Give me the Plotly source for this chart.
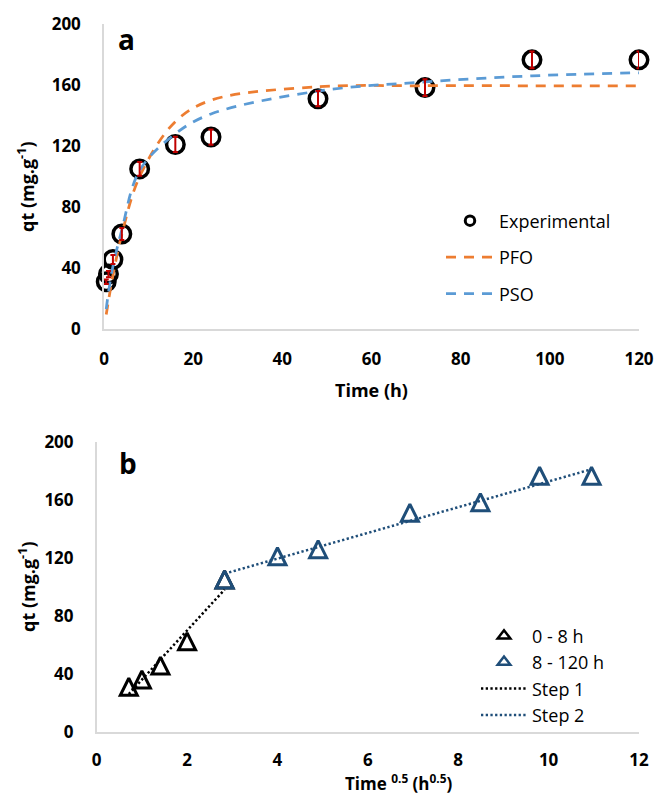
import plotly.graph_objects as go

# ---- kinetic data ----
time_h = [0.5, 1, 2, 4, 8, 16, 24, 48, 72, 96, 120]
qt_exp = [31, 36, 45.6, 62.3, 105, 121, 125.9, 151, 158.3, 176.5, 176.5]
qt_err = [1.5, 2, 3, 4, 4.5, 5, 5, 5, 5.5, 5.5, 5.5]
qt_pfo = [9.5, 18.5, 35, 62, 100, 136, 150, 158.8, 159.5, 159.5, 159.5]
qt_pso = [13, 24, 41, 65, 104, 128, 141, 156, 162, 166, 168]

# ---- intraparticle diffusion ----
sqrt_time = [0.71, 1.00, 1.41, 2.00, 2.83, 4.00, 4.90, 6.93, 8.49, 9.80, 10.95]
n_step1 = 5  # points from 0 to 8 h
step1_x = [0.71, 2.83]
step1_y = [26, 98]
step2_x = [2.83, 10.95]
step2_y = [109, 181]

W, H = 656, 794
FONT = "Open Sans"


def px(x):
    return x / W


def py(y):
    return 1 - y / H


ORANGE = "#ED7D31"
LBLUE = "#5B9BD5"
DBLUE = "#1F4E79"
RED = "#C00000"

fig = go.Figure()

# ---------- panel a ----------
fig.add_trace(go.Scatter(
    x=time_h, y=qt_exp, mode="markers", showlegend=False,
    marker=dict(symbol="circle-open", size=17.5, color="black",
                line=dict(width=3.5, color="black")),
    cliponaxis=False, xaxis="x", yaxis="y"))
# legend entry with a smaller key symbol
fig.add_trace(go.Scatter(
    x=[None], y=[None], mode="markers", name="Experimental",
    marker=dict(symbol="circle-open", size=9.5, color="black",
                line=dict(width=3, color="black")),
    legend="legend", legendgroup="e", xaxis="x", yaxis="y"))
fig.add_trace(go.Scatter(
    x=time_h, y=qt_pfo, mode="lines", name="PFO", line_shape="spline",
    line=dict(color=ORANGE, width=2.75, dash="10px,8px"),
    legend="legend", legendgroup="p1", xaxis="x", yaxis="y"))
fig.add_trace(go.Scatter(
    x=time_h, y=qt_pso, mode="lines", name="PSO", line_shape="spline",
    line=dict(color=LBLUE, width=2.75, dash="10px,8px"),
    legend="legend", legendgroup="p2", xaxis="x", yaxis="y"))
fig.add_trace(go.Scatter(
    x=time_h, y=qt_exp, mode="markers", showlegend=False, hoverinfo="skip",
    marker=dict(size=1, color="rgba(0,0,0,0)"),
    error_y=dict(type="data", array=qt_err, color=RED, thickness=2, width=2.5),
    cliponaxis=False, xaxis="x", yaxis="y"))

# ---------- panel b ----------
tri = dict(symbol="arrow-down-open", angle=180, size=17, standoff=8.5)
fig.add_trace(go.Scatter(
    x=sqrt_time[:n_step1], y=qt_exp[:n_step1], mode="markers", showlegend=False,
    marker=dict(**tri, color="black", line=dict(width=3, color="black")),
    cliponaxis=False, xaxis="x2", yaxis="y2"))
fig.add_trace(go.Scatter(
    x=sqrt_time[n_step1 - 1:], y=qt_exp[n_step1 - 1:], mode="markers", showlegend=False,
    marker=dict(**tri, color=DBLUE, line=dict(width=3, color=DBLUE)),
    cliponaxis=False, xaxis="x2", yaxis="y2"))
fig.add_trace(go.Scatter(
    x=step1_x, y=step1_y, mode="lines", name="Step 1",
    line=dict(color="black", width=2.5, dash="2.3px,2.4px"),
    showlegend=False, xaxis="x2", yaxis="y2"))
fig.add_trace(go.Scatter(
    x=step2_x, y=step2_y, mode="lines", name="Step 2",
    line=dict(color=DBLUE, width=2.5, dash="2.3px,2.4px"),
    showlegend=False, xaxis="x2", yaxis="y2"))

# legend keys for panel b
for name, color, mode in [
    ("0 - 8 h", "black", "markers"),
    ("8 - 120 h", DBLUE, "markers"),
    ("Step 1", "black", "lines"),
    ("Step 2", DBLUE, "lines"),
]:
    if mode == "markers":
        fig.add_trace(go.Scatter(
            x=[None], y=[None], mode="markers", name=name,
            marker=dict(symbol="triangle-up-open", size=11, color=color,
                        line=dict(width=2.5, color=color)),
            legend="legend2", xaxis="x2", yaxis="y2"))
    else:
        fig.add_trace(go.Scatter(
            x=[None], y=[None], mode="lines", name=name,
            line=dict(color=color, width=2.5, dash="2.3px,2.4px"),
            legend="legend2", xaxis="x2", yaxis="y2"))

tickfont = dict(family=FONT, size=17, color="black", weight="bold")
axis_common = dict(showline=True, linecolor="#D9D9D9", linewidth=1.5,
                   showgrid=False, zeroline=False, ticks="",
                   tickfont=tickfont, fixedrange=True)

fig.update_layout(
    width=W, height=H,
    margin=dict(l=0, r=0, t=0, b=0, autoexpand=False),
    paper_bgcolor="white", plot_bgcolor="white",
    font=dict(family=FONT, color="black"),
    xaxis=dict(domain=[px(104), px(639)], range=[0, 120], dtick=20, anchor="y",
               ticklabelstandoff=14, **axis_common),
    yaxis=dict(domain=[py(329), py(24)], range=[0, 200], dtick=40, anchor="x",
               ticklabelstandoff=18, **axis_common),
    xaxis2=dict(domain=[px(96.7), px(639)], range=[0, 12], dtick=2, anchor="y2",
                ticklabelstandoff=12, **axis_common),
    yaxis2=dict(domain=[py(731.7), py(441.7)], range=[0, 200], dtick=40, anchor="x2",
                ticklabelstandoff=18, **axis_common),
    legend=dict(x=px(441), y=py(202.5), xanchor="left", yanchor="top",
                bgcolor="rgba(0,0,0,0)", borderwidth=0,
                font=dict(family=FONT, size=18, color="black"),
                itemwidth=48, itemsizing="trace",
                traceorder="grouped", tracegroupgap=10),
    legend2=dict(x=px(476), y=py(617.5), xanchor="left", yanchor="top",
                 bgcolor="rgba(0,0,0,0)", borderwidth=0,
                 font=dict(family=FONT, size=18, color="black"),
                 itemwidth=46, itemsizing="trace", traceorder="normal"),
    showlegend=True,
)

title_font = dict(family=FONT, size=18, color="black", weight="bold")
annotations = [
    dict(text="a", x=px(126), y=py(39), font=dict(family=FONT, size=28, color="black", weight="bold")),
    dict(text="b", x=px(127.5), y=py(463), font=dict(family=FONT, size=28, color="black", weight="bold")),
    dict(text="qt (mg.g<sup>-1</sup>)", x=px(26), y=py(187), textangle=-90, font=title_font),
    dict(text="qt (mg.g<sup>-1</sup>)", x=px(27), y=py(587), textangle=-90, font=title_font),
    dict(text="Time (h)", x=px(371.5), y=py(390), font=title_font),
    dict(text="Time <sup>0.5</sup> (h<sup>0.5</sup>)", x=px(399), y=py(782.5),
         font=dict(family=FONT, size=17, color="black", weight="bold"), borderpad=0),
]
for a in annotations:
    a.update(xref="paper", yref="paper", showarrow=False, xanchor="center", yanchor="middle")
fig.update_layout(annotations=annotations)

fig.write_html("out.html")
